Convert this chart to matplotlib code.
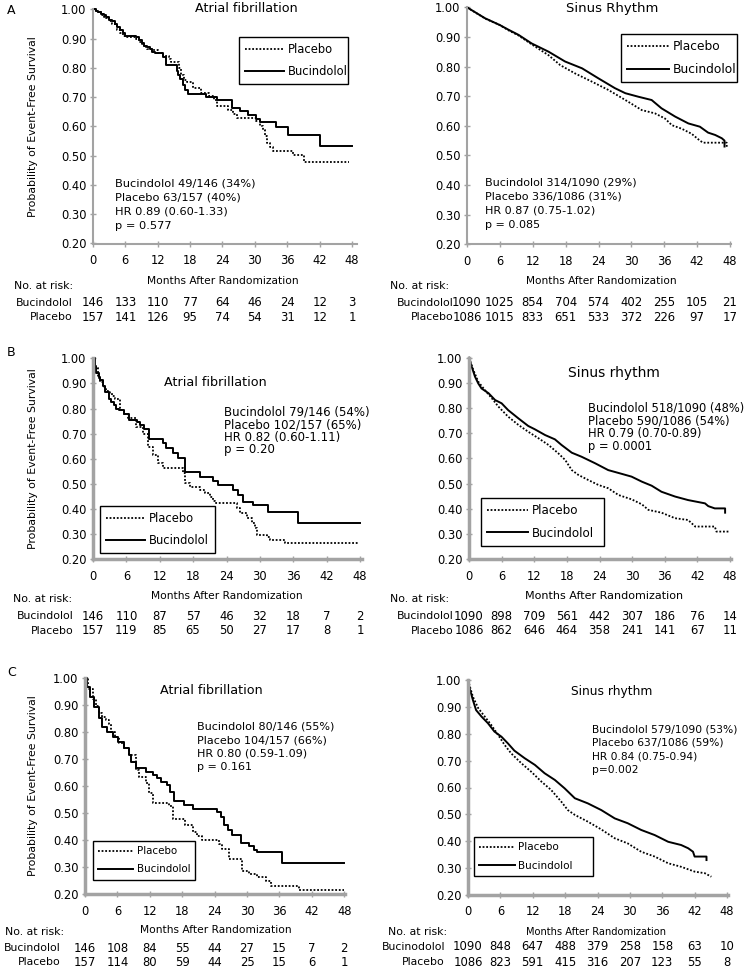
import matplotlib
matplotlib.use("Agg")
import matplotlib.pyplot as plt
from matplotlib import transforms
from matplotlib.lines import Line2D

W, H = 750, 969

# ---- data ----
month_ticks = [0, 6, 12, 18, 24, 30, 36, 42, 48]
surv_ticks = [0.2, 0.3, 0.4, 0.5, 0.6, 0.7, 0.8, 0.9, 1.0]

# A - atrial fibrillation
a_af_buc_t = [0, 0.5, 1, 1.5, 2, 2.5, 3, 3.5, 4, 4.5, 5, 5.5, 6, 8, 8.5, 9, 9.5, 10, 10.5, 11,
              11.5, 13, 13.6, 15.5, 15.8, 16.2, 16.6, 17, 17.6, 21, 22.9, 25.7, 27.2, 28.8, 30.3,
              30.9, 33.9, 36.2, 42.1, 48]
a_af_buc_s = [1.0, 0.995, 0.99, 0.985, 0.98, 0.975, 0.965, 0.96, 0.95, 0.94, 0.93, 0.92, 0.91,
              0.905, 0.895, 0.885, 0.875, 0.87, 0.865, 0.855, 0.85, 0.836, 0.81, 0.79, 0.775,
              0.762, 0.74, 0.725, 0.712, 0.70, 0.69, 0.663, 0.652, 0.64, 0.625, 0.614, 0.598,
              0.572, 0.532, 0.532]
a_af_pla_t = [0, 0.5, 1, 1.5, 2, 2.5, 3, 3.5, 4, 4.5, 5, 5.5, 6, 8, 8.5, 9, 9.5, 10, 11, 12,
              13, 14, 14.5, 16, 16.3, 16.8, 17.5, 18.5, 20, 21.5, 22.5, 23, 25, 26, 26.6, 30.3,
              30.9, 31.5, 31.8, 32.2, 32.8, 33.4, 37.1, 39.1, 47.5]
a_af_pla_s = [1.0, 0.995, 0.99, 0.98, 0.975, 0.97, 0.96, 0.95, 0.945, 0.93, 0.92, 0.91, 0.905,
              0.90, 0.89, 0.88, 0.87, 0.865, 0.86, 0.85, 0.84, 0.83, 0.82, 0.80, 0.775, 0.76,
              0.75, 0.73, 0.715, 0.705, 0.69, 0.671, 0.657, 0.642, 0.629, 0.617, 0.60, 0.589,
              0.566, 0.544, 0.53, 0.515, 0.504, 0.478, 0.478]
a_af_risk_buc = [146, 133, 110, 77, 64, 46, 24, 12, 3]
a_af_risk_pla = [157, 141, 126, 95, 74, 54, 31, 12, 1]
a_af_stats = ["Bucindolol 49/146 (34%)", "Placebo 63/157 (40%)", "HR 0.89 (0.60-1.33)", "p = 0.577"]

# A - sinus rhythm
a_sr_buc_t = [0, 3.3, 6, 7.6, 9.4, 11.8, 14.9, 17.9, 21, 24, 27, 28.9, 31.3, 33.7, 35.5, 38,
              40.4, 42.5, 44, 45.3, 46.5, 47, 47]
a_sr_buc_s = [1.0, 0.963, 0.94, 0.924, 0.907, 0.878, 0.85, 0.817, 0.794, 0.76, 0.727, 0.71,
              0.698, 0.687, 0.659, 0.631, 0.608, 0.597, 0.577, 0.569, 0.558, 0.55, 0.53]
a_sr_pla_t = [0, 3.3, 6, 7.6, 9.4, 11.8, 14.9, 17, 19.7, 22.8, 25.8, 28.9, 31.9, 34.3, 36.1,
              37.4, 39.2, 41, 42.5, 43.1, 47.4, 47.4]
a_sr_pla_s = [1.0, 0.962, 0.94, 0.922, 0.905, 0.875, 0.838, 0.805, 0.777, 0.749, 0.721, 0.687,
              0.653, 0.642, 0.625, 0.602, 0.59, 0.573, 0.55, 0.543, 0.543, 0.528]
a_sr_risk_buc = [1090, 1025, 854, 704, 574, 402, 255, 105, 21]
a_sr_risk_pla = [1086, 1015, 833, 651, 533, 372, 226, 97, 17]
a_sr_stats = ["Bucindolol 314/1090 (29%)", "Placebo 336/1086 (31%)", "HR 0.87 (0.75-1.02)", "p = 0.085"]

# B - atrial fibrillation
b_af_buc_t = [0, 0.3, 0.6, 1, 1.3, 1.8, 2.2, 2.8, 3.3, 3.7, 4.2, 4.6, 5.5, 6.4, 7.9, 8.5, 9.1,
              10, 12.6, 13.2, 14.4, 15.3, 16.5, 19.2, 21.6, 22.5, 25.2, 26.1, 27, 28.8, 31.5,
              36.8, 48]
b_af_buc_s = [1.0, 0.97, 0.94, 0.925, 0.914, 0.89, 0.867, 0.84, 0.825, 0.814, 0.80, 0.794,
              0.78, 0.755, 0.748, 0.735, 0.72, 0.68, 0.662, 0.642, 0.622, 0.602, 0.549, 0.529,
              0.513, 0.496, 0.476, 0.456, 0.43, 0.416, 0.39, 0.346, 0.346]
b_af_pla_t = [0, 0.4, 0.9, 1.3, 1.8, 2.4, 3, 3.5, 3.9, 4.8, 5.5, 6.3, 7.8, 9, 9.9, 10.8, 11.7,
              12.6, 16.2, 16.5, 17.4, 19.2, 20.1, 21, 21.6, 21.9, 25.8, 26.4, 27.6, 28.5, 29.1,
              29.4, 31.2, 31.8, 34.5, 47.7]
b_af_pla_s = [1.0, 0.96, 0.92, 0.905, 0.887, 0.87, 0.86, 0.85, 0.84, 0.794, 0.78, 0.761, 0.728,
              0.70, 0.648, 0.615, 0.582, 0.562, 0.542, 0.502, 0.489, 0.476, 0.463, 0.447, 0.434,
              0.426, 0.403, 0.383, 0.363, 0.343, 0.323, 0.297, 0.29, 0.277, 0.264, 0.264]
b_af_risk_buc = [146, 110, 87, 57, 46, 32, 18, 7, 2]
b_af_risk_pla = [157, 119, 85, 65, 50, 27, 17, 8, 1]
b_af_stats = ["Bucindolol 79/146 (54%)", "Placebo 102/157 (65%)", "HR 0.82 (0.60-1.11)", "p = 0.20"]

# B - sinus rhythm
b_sr_buc_t = [0, 0.5, 1.1, 1.7, 2.3, 3.6, 4.8, 6.0, 7.2, 9.1, 10.9, 12.1, 14, 15.8, 17, 18.9,
              20.7, 23.2, 25.6, 28.1, 29.9, 31.8, 33.6, 35.4, 37.9, 40.3, 43.4, 44, 45.2, 47.1, 47.1]
b_sr_buc_s = [1.0, 0.964, 0.925, 0.898, 0.878, 0.859, 0.832, 0.819, 0.792, 0.759, 0.729, 0.716,
              0.693, 0.676, 0.654, 0.623, 0.607, 0.581, 0.554, 0.539, 0.528, 0.508, 0.492, 0.468,
              0.449, 0.435, 0.422, 0.411, 0.402, 0.402, 0.385]
b_sr_pla_t = [0, 0.8, 1.7, 2.9, 4.2, 5.4, 7.2, 9.1, 10.9, 12.8, 14.6, 16.4, 17.7, 18.9, 20.1,
              21.9, 23.8, 25.6, 27.5, 29.9, 31.8, 33, 35.4, 37.9, 40.3, 41.6, 45.2, 45.5, 47.8]
b_sr_pla_s = [1.0, 0.951, 0.905, 0.872, 0.839, 0.806, 0.766, 0.733, 0.706, 0.68, 0.654, 0.621,
              0.594, 0.554, 0.535, 0.515, 0.495, 0.482, 0.455, 0.438, 0.418, 0.396, 0.385, 0.363,
              0.356, 0.33, 0.33, 0.31, 0.31]
b_sr_risk_buc = [1090, 898, 709, 561, 442, 307, 186, 76, 14]
b_sr_risk_pla = [1086, 862, 646, 464, 358, 241, 141, 67, 11]
b_sr_stats = ["Bucindolol 518/1090 (48%)", "Placebo 590/1086 (54%)", "HR 0.79 (0.70-0.89)", "p = 0.0001"]

# C - atrial fibrillation
c_af_buc_t = [0, 0.4, 1, 1.6, 2.5, 3.1, 4, 5.2, 6.1, 7.3, 8.2, 8.5, 9.4, 11.3, 12.5, 13.4, 14,
              15.2, 15.8, 16.4, 18.3, 20, 24.5, 25.1, 25.7, 26.4, 27.3, 28.8, 30.4, 31.3, 31.9,
              36.5, 48]
c_af_buc_s = [1.0, 0.967, 0.93, 0.893, 0.85, 0.819, 0.80, 0.782, 0.764, 0.739, 0.714, 0.69,
              0.665, 0.653, 0.64, 0.628, 0.616, 0.604, 0.579, 0.546, 0.53, 0.514, 0.505, 0.487,
              0.456, 0.437, 0.419, 0.388, 0.378, 0.364, 0.357, 0.314, 0.314]
c_af_pla_t = [0, 0.5, 1.4, 2, 2.6, 3.2, 3.8, 4.4, 4.75, 5.5, 6.3, 7.2, 8.1, 9.4, 10, 11.2, 11.9,
              12.5, 15.6, 16.2, 18.6, 19.9, 20.8, 21.7, 24.8, 25.4, 26.7, 29.1, 30.4, 31.9, 33.5,
              34.4, 39.6, 48]
c_af_pla_s = [1.0, 0.96, 0.92, 0.895, 0.87, 0.855, 0.844, 0.83, 0.80, 0.78, 0.76, 0.74, 0.715,
              0.659, 0.634, 0.61, 0.573, 0.536, 0.527, 0.478, 0.456, 0.431, 0.415, 0.40, 0.385,
              0.366, 0.33, 0.286, 0.275, 0.265, 0.25, 0.231, 0.216, 0.216]
c_af_risk_buc = [146, 108, 84, 55, 44, 27, 15, 7, 2]
c_af_risk_pla = [157, 114, 80, 59, 44, 25, 15, 6, 1]
c_af_stats = ["Bucindolol 80/146 (55%)", "Placebo 104/157 (66%)", "HR 0.80 (0.59-1.09)", "p = 0.161"]

# C - sinus rhythm
c_sr_buc_t = [0, 0.3, 0.9, 1.5, 2.5, 3.7, 4.9, 6.2, 7.4, 8.6, 10.5, 12.4, 14.2, 16.1, 17.9,
              19.8, 22.2, 24.7, 27.2, 29.6, 32.1, 34.6, 37.1, 39.5, 40.8, 41.7, 42, 44.2, 44.2]
c_sr_buc_s = [1.0, 0.969, 0.926, 0.888, 0.864, 0.839, 0.808, 0.789, 0.764, 0.737, 0.709, 0.684,
              0.653, 0.628, 0.597, 0.56, 0.541, 0.516, 0.485, 0.467, 0.442, 0.423, 0.398, 0.386,
              0.374, 0.361, 0.343, 0.343, 0.33]
c_sr_pla_t = [0, 0.9, 1.9, 3.1, 4.3, 5.6, 6.8, 8, 9.9, 11.7, 13.6, 15.4, 17.3, 18.5, 19.8, 22.2,
              24.7, 27.2, 29.6, 32.1, 34.6, 37.1, 39.5, 42, 43.9, 45.1]
c_sr_pla_s = [1.0, 0.938, 0.895, 0.864, 0.833, 0.795, 0.758, 0.727, 0.69, 0.659, 0.622, 0.591,
              0.547, 0.516, 0.498, 0.473, 0.444, 0.411, 0.392, 0.361, 0.343, 0.318, 0.305, 0.287,
              0.281, 0.268]
c_sr_risk_buc = [1090, 848, 647, 488, 379, 258, 158, 63, 10]
c_sr_risk_pla = [1086, 823, 591, 415, 316, 207, 123, 55, 8]
c_sr_stats = ["Bucindolol 579/1090 (53%)", "Placebo 637/1086 (59%)", "HR 0.84 (0.75-0.94)", "p=0.002"]

# ---- layout (figure pixels) ----
panels = [
    dict(title="Atrial fibrillation", buc=(a_af_buc_t, a_af_buc_s), pla=(a_af_pla_t, a_af_pla_s),
         risk=(a_af_risk_buc, a_af_risk_pla), stats=a_af_stats, buc_name="Bucindolol",
         steps=True, ylabel=True, ax=(93, 352, 9.3, 243.5, 49.0), lw=1.5,
         tpos=(246, 8.7, 9.2), spos=(115, 183, 14.3, 8.2), leg=(239, 37, 109, 8.3),
         xl=(223, 281, 7.7), rpos=(14, 286, 73, 303, 317)),
    dict(title="Sinus Rhythm", buc=(a_sr_buc_t, a_sr_buc_s), pla=(a_sr_pla_t, a_sr_pla_s),
         risk=(a_sr_risk_buc, a_sr_risk_pla), stats=a_sr_stats, buc_name="Bucindolol",
         steps=False, ylabel=False, ax=(467, 730, 7.3, 244.3, 48.1), lw=1.5,
         tpos=(611.7, 8.7, 9.5), spos=(485, 182.7, 14.1, 8.0), leg=(621, 34, 116, 8.8),
         xl=(601.7, 281, 7.6), rpos=(390, 286, 453.3, 302.7, 317.3)),
    dict(title="Atrial fibrillation", buc=(b_af_buc_t, b_af_buc_s), pla=(b_af_pla_t, b_af_pla_s),
         risk=(b_af_risk_buc, b_af_risk_pla), stats=b_af_stats, buc_name="Bucindolol",
         steps=True, ylabel=True, ax=(93, 360, 358.3, 559.3, 48.3), lw=2.5,
         tpos=(215, 383, 9.2), spos=(224, 412, 12.6, 8.5), leg=(100, 506, 115, 8.3),
         xl=(226.7, 596, 7.7), rpos=(13, 599.3, 73.3, 616, 630.7)),
    dict(title="Sinus rhythm", buc=(b_sr_buc_t, b_sr_buc_s), pla=(b_sr_pla_t, b_sr_pla_s),
         risk=(b_sr_risk_buc, b_sr_risk_pla), stats=b_sr_stats, buc_name="Bucindolol",
         steps=False, ylabel=False, ax=(469, 730, 357.7, 559.3, 48.2), lw=2.5,
         tpos=(613.7, 372.7, 10), spos=(588, 408.3, 12.6, 8.3), leg=(481, 498, 123, 8.6),
         xl=(603.7, 596, 8.0), rpos=(390, 599, 454, 616, 631)),
    dict(title="Atrial fibrillation", buc=(c_af_buc_t, c_af_buc_s), pla=(c_af_pla_t, c_af_pla_s),
         risk=(c_af_risk_buc, c_af_risk_pla), stats=c_af_stats, buc_name="Bucindolol",
         steps=True, ylabel=True, ax=(85, 344.3, 677.7, 894.3, 48.2), lw=2.5,
         tpos=(211.7, 691, 9.2), spos=(197, 726.7, 13.5, 8.0), leg=(93, 841, 102, 7.4),
         xl=(215.8, 930, 7.7), rpos=(5, 932, 61, 948, 962)),
    dict(title="Sinus rhythm", buc=(c_sr_buc_t, c_sr_buc_s), pla=(c_sr_pla_t, c_sr_pla_s),
         risk=(c_sr_risk_buc, c_sr_risk_pla), stats=c_sr_stats, buc_name="Bucinodolol",
         steps=False, ylabel=False, ax=(468, 727, 680, 895, 48.1), lw=2.5,
         tpos=(611.7, 691, 8.8), spos=(592, 729, 13.7, 7.7), leg=(474, 837, 119, 7.5),
         xl=(595.7, 932.3, 7.1), rpos=(388, 932, 445, 947, 962)),
]
letters = [("A", 11, 11), ("B", 11, 352), ("C", 12, 672)]

SPINE = "#a3a3a3"
NUM_FONT = ["Liberation Sans Narrow", "DejaVu Sans"]
plt.rcParams["font.family"] = ["DejaVu Sans"]

fig = plt.figure(figsize=(W / 100, H / 100), dpi=100)


def fx(x):
    return x / W


def fy(y):
    return 1 - y / H


def ftext(x, y, s, **kw):
    kw.setdefault("va", "center")
    fig.text(fx(x), fy(y), s, **kw)


for p in panels:
    x0, x48, top, bot, xmax = p["ax"]
    right = x0 + (x48 - x0) * xmax / 48.0
    ax = fig.add_axes([fx(x0), fy(bot), (right - x0) / W, (bot - top) / H])
    ax.set_xlim(0, xmax)
    ax.set_ylim(0.2, 1.0)

    ds = "steps-post" if p["steps"] else "default"
    ax.plot(p["pla"][0], p["pla"][1], color="black", lw=1.3, ls=(0, (1, 1)),
            drawstyle=ds, solid_capstyle="butt", clip_on=False)
    ax.plot(p["buc"][0], p["buc"][1], color="black", lw=1.4, ls="-",
            drawstyle=ds, clip_on=False)

    for side in ["top", "right"]:
        ax.spines[side].set_visible(False)
    for side in ["left", "bottom"]:
        ax.spines[side].set_color(SPINE)
        ax.spines[side].set_linewidth(p["lw"])
    ax.set_xticks(month_ticks)
    ax.set_yticks(surv_ticks)
    ax.set_yticklabels([f"{v:.2f}" for v in surv_ticks])
    ax.tick_params(axis="both", direction="inout", length=4, width=1, color=SPINE,
                   labelsize=8.3, labelcolor="black")
    ax.tick_params(axis="x", pad=5.5)
    ax.tick_params(axis="y", pad=2.7)
    ax.patch.set_visible(False)

    # title and statistics
    tx, ty, ts = p["tpos"]
    ftext(tx, ty, p["title"], ha="center", fontsize=ts)
    sx, sy, sdy, sfs = p["spos"]
    for i, line in enumerate(p["stats"]):
        ftext(sx, sy + i * sdy, line, ha="left", fontsize=sfs)

    # legend
    lx, ltop, lw_, lfs = p["leg"]
    handles = [Line2D([], [], color="black", lw=1.3, ls=(0, (1, 1))),
               Line2D([], [], color="black", lw=1.4)]
    leg = ax.legend(handles, ["Placebo", "Bucindolol"], loc="upper left",
                    bbox_to_anchor=(fx(lx), fy(ltop), lw_ / W, 0), bbox_transform=fig.transFigure,
                    mode="expand", borderaxespad=0, fontsize=lfs, handlelength=3.4,
                    handletextpad=0.35, labelspacing=0.8, borderpad=0.5, fancybox=False,
                    framealpha=1, edgecolor="black")
    leg.get_frame().set_linewidth(1.0)

    # axis label
    xx, xy, xs = p["xl"]
    ftext(xx, xy, "Months After Randomization", ha="center", fontsize=xs)
    if p["ylabel"]:
        ftext(33, (top + bot) / 2, "Probability of Event-Free Survival", ha="center",
              rotation=90, fontsize=7.8)

    # number at risk table
    rx, ry, rlab, rb, rp = p["rpos"]
    ftext(rx, ry, "No. at risk:", ha="left", fontsize=7.8)
    ftext(rlab, rb, p["buc_name"], ha="right", fontsize=7.8)
    ftext(rlab, rp, "Placebo", ha="right", fontsize=7.8)
    trans = transforms.blended_transform_factory(ax.transData, fig.transFigure)
    for m, nb, npl in zip(month_ticks, p["risk"][0], p["risk"][1]):
        fig.text(m, fy(rb), str(nb), transform=trans, ha="center", va="center",
                 fontsize=8.4, family=NUM_FONT)
        fig.text(m, fy(rp), str(npl), transform=trans, ha="center", va="center",
                 fontsize=8.4, family=NUM_FONT)

for s, x, y in letters:
    ftext(x, y, s, ha="center", fontsize=9)

fig.savefig("out.png", dpi=100)
